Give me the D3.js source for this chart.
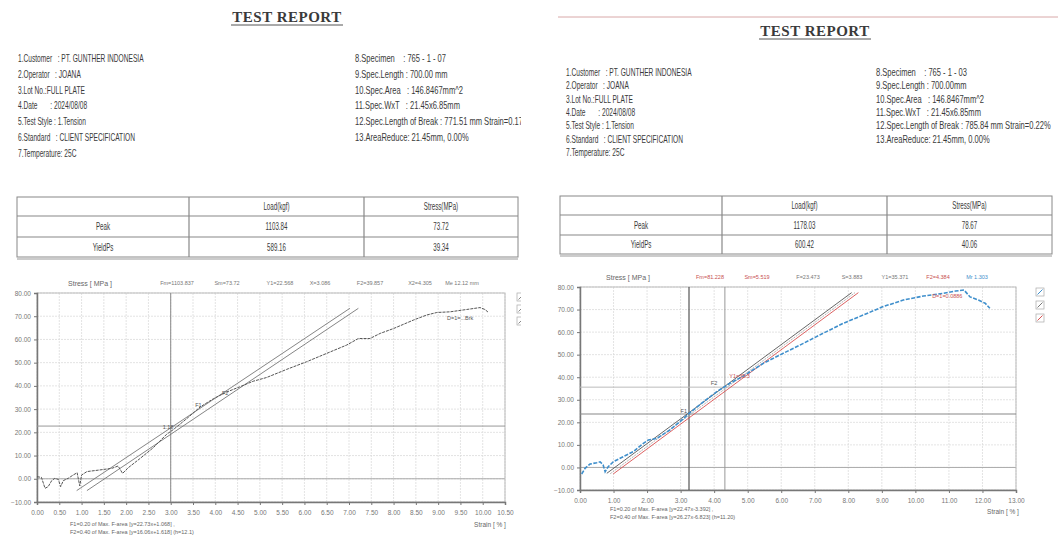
<!DOCTYPE html>
<html>
<head>
<meta charset="utf-8">
<script src="https://cdn.jsdelivr.net/npm/d3@7"></script>
<style>
  html, body { margin: 0; padding: 0; background: #ffffff; }
  svg { display: block; }
  .info { font-family: "Liberation Sans", "DejaVu Sans", sans-serif; fill: #3a3a3a; }
  .small { font-family: "Liberation Sans", "DejaVu Sans", sans-serif; fill: #666; }
  .title { font-family: "Liberation Serif", "DejaVu Serif", serif; font-weight: bold; fill: #3a3a3a; }
</style>
</head>
<body>
<svg id="page" width="1058" height="536"></svg>
<script>
// ---------- report A (specimen 765-1-07) ----------
const infoLeftA = [
  "1.Customer   : PT. GUNTHER INDONESIA",
  "2.Operator   : JOANA",
  "3.Lot No.:FULL PLATE",
  "4.Date       : 2024/08/08",
  "5.Test Style : 1.Tension",
  "6.Standard   : CLIENT SPECIFICATION",
  "7.Temperature: 25C"
];
const infoRightA = [
  "8.Specimen    : 765 - 1 - 07",
  "9.Spec.Length : 700.00 mm",
  "10.Spec.Area   : 146.8467mm^2",
  "11.Spec.WxT   : 21.45x6.85mm",
  "12.Spec.Length of Break : 771.51 mm Strain=0.17%",
  "13.AreaReduce: 21.45mm, 0.00%"
];
const tableHeadA = ["", "Load(kgf)", "Stress(MPa)"];
const tableRowsA = [["Peak", "1103.84", "73.72"], ["YieldPs", "589.16", "39.34"]];
const strainA = [0.00, 0.10, 0.18, 0.25, 0.33, 0.40, 0.48, 0.53, 0.59, 0.70, 0.81, 0.90, 0.96, 1.00, 1.12, 1.41, 1.68, 1.82, 1.92, 2.05, 2.31, 2.61, 2.91, 3.06, 3.36, 3.66, 3.96, 4.26, 4.55, 4.85, 5.15, 5.60, 6.05, 6.50, 6.95, 7.21, 7.47, 7.70, 8.00, 8.44, 8.74, 8.97, 9.27, 9.64, 9.94, 10.05, 10.13];
const stressA = [0.9, 0.6, -4.1, -3.4, -0.8, 0.2, -0.3, -3.4, -0.8, 0.2, 1.6, 2.6, -3.1, 1.6, 3.1, 3.8, 4.5, 5.5, 2.3, 4.8, 8.7, 13.4, 19.2, 21.2, 25.9, 30.9, 34.5, 37.4, 39.6, 42.0, 43.6, 47.1, 50.4, 54.0, 57.6, 60.4, 60.4, 62.6, 64.7, 68.3, 70.5, 71.6, 71.9, 72.9, 73.72, 72.9, 71.6];
// offset lines: [strain, stress] end points
const fitLinesA = [[[0.89, -5.1], [7.02, 73.4]], [[1.12, -5.1], [7.21, 73.4]]];
const xTicksA = d3.range(0, 10.51, 0.5);
const yTicks = d3.range(-10, 80.1, 10);
const headerA = ["Fm=1103.837", "Sm=73.72", "Y1=22.568", "X=3.086", "F2=39.857", "X2=4.305", "Me   12.12 mm"];
const footerA = ["F1=0.20 of Max. F-area [y=22.73x+1.068] ,", "F2=0.40 of Max. F-area [y=16.06x+1.618] (h=12.1)"];
const markA = { x: 3.0, y: 22.7 };

// ---------- report B (specimen 765-1-03) ----------
const infoLeftB = [
  "1.Customer   : PT. GUNTHER INDONESIA",
  "2.Operator   : JOANA",
  "3.Lot No.:FULL PLATE",
  "4.Date       : 2024/08/08",
  "5.Test Style : 1.Tension",
  "6.Standard   : CLIENT SPECIFICATION",
  "7.Temperature: 25C"
];
const infoRightB = [
  "8.Specimen    : 765 - 1 - 03",
  "9.Spec.Length : 700.00mm",
  "10.Spec.Area   : 146.8467mm^2",
  "11.Spec.WxT   : 21.45x6.85mm",
  "12.Spec.Length of Break : 785.84 mm Strain=0.22%",
  "13.AreaReduce: 21.45mm, 0.00%"
];
const tableHeadB = ["", "Load(kgf)", "Stress(MPa)"];
const tableRowsB = [["Peak", "1178.03", "78.67"], ["YieldPs", "600.42", "40.06"]];
const strainB = [0.05, 0.15, 0.30, 0.50, 0.60, 0.69, 0.75, 0.84, 0.99, 1.29, 1.59, 1.89, 2.04, 2.29, 2.68, 2.98, 3.28, 3.68, 4.08, 4.47, 4.87, 5.47, 6.06, 6.66, 7.25, 7.85, 8.45, 9.04, 9.64, 10.24, 10.83, 11.20, 11.45, 11.63, 11.88, 12.08, 12.22];
const stressB = [-2.9, -0.4, 1.5, 2.1, 2.5, 1.1, -1.9, 0.3, 2.5, 4.8, 7.0, 10.7, 12.2, 12.9, 16.6, 20.3, 24.3, 29.1, 33.6, 37.3, 40.5, 46.2, 50.6, 55.0, 59.5, 63.9, 67.6, 71.3, 74.2, 76.0, 77.2, 78.2, 78.67, 75.6, 74.2, 72.8, 70.6];
const fitLinesB = [[[0.80, -2.6], [8.10, 77.5]], [[0.90, -2.8], [8.20, 77.5]], [[0.99, -2.9], [8.30, 77.5]]];
const xTicksB = d3.range(0, 13.01, 1);
const headerB = ["Fm=81.228", "Sm=5.519", "F=23.473", "S=3.883", "Y1=35.371", "F2=4.384", "Mr   1.303"];
const footerB = ["F1=0.20 of Max. F-area [y=22.47x-3.392] ,", "F2=0.40 of Max. F-area [y=26.27x-6.823] (h=11.20)"];
const markB = { x: 3.25, y: 23.7, x2: 4.32, y2: 35.6 };

const svg = d3.select("#page");
svg.append("rect").attr("width", 1058).attr("height", 536).attr("fill", "#ffffff");

svg.append("defs").append("clipPath").attr("id", "clipA")
  .append("rect").attr("x", 0).attr("y", 0).attr("width", 521).attr("height", 536);

const gA = svg.append("g").attr("clip-path", "url(#clipA)");
const gB = svg.append("g");

// condensed text helper: narrow glyphs like the printed report
function ctext(g, x, y, str, size, anchor, sx) {
  return g.append("text").attr("class", "info")
    .attr("transform", `translate(${x},${y}) scale(${sx || 0.66},1)`)
    .attr("font-size", size).attr("text-anchor", anchor || "start")
    .attr("xml:space", "preserve").text(str);
}

// top rule of report B
gB.append("line").attr("x1", 558).attr("x2", 1058).attr("y1", 17).attr("y2", 17)
  .attr("stroke", "#d8a8a8").attr("stroke-width", 1);

function drawHeader(g, cx, ty, infoL, infoR, lx, rx, rows) {
  g.append("text").attr("class", "title").attr("x", cx).attr("y", ty)
    .attr("text-anchor", "middle").attr("font-size", 15).attr("letter-spacing", 0.5).text("TEST REPORT");
  const w = 112;
  g.append("line").attr("x1", cx - w / 2).attr("x2", cx + w / 2).attr("y1", ty + 3).attr("y2", ty + 3)
    .attr("stroke", "#555").attr("stroke-width", 1);
  infoL.forEach((d, i) => ctext(g, lx, rows[i], d, 10.5, "start", 0.63));
  infoR.forEach((d, i) => ctext(g, rx, rows[i], d, 10.5, "start", 0.72));
}

function drawTable(g, cols, rowsY, head, body) {
  const x0 = cols[0], x1 = cols[cols.length - 1];
  g.append("rect").attr("x", x0).attr("y", rowsY[0]).attr("width", x1 - x0).attr("height", rowsY[3] - rowsY[0])
    .attr("fill", "none").attr("stroke", "#888").attr("stroke-width", 1);
  rowsY.slice(1, 3).forEach(y => g.append("line").attr("x1", x0).attr("x2", x1).attr("y1", y).attr("y2", y)
    .attr("stroke", "#888").attr("stroke-width", 1.2));
  g.append("line").attr("x1", x0).attr("x2", x1).attr("y1", rowsY[3] + 2).attr("y2", rowsY[3] + 2)
    .attr("stroke", "#999").attr("stroke-width", 1);
  cols.slice(1, 3).forEach(x => g.append("line").attr("x1", x).attr("x2", x).attr("y1", rowsY[0]).attr("y2", rowsY[3])
    .attr("stroke", "#888").attr("stroke-width", 1.2));
  const all = [head].concat(body);
  all.forEach((row, r) => {
    row.forEach((cell, c) => {
      ctext(g, (cols[c] + cols[c + 1]) / 2, (rowsY[r] + rowsY[r + 1]) / 2 + 3.5, cell, 10, "middle", 0.62);
    });
  });
}

function drawChart(g, opt) {
  const x = d3.scaleLinear().domain(opt.xDomain).range(opt.xRange);
  const y = d3.scaleLinear().domain([-10, 80]).range(opt.yRange);
  const [L, R] = opt.xRange, [B, T] = opt.yRange;

  // grid
  g.append("g").selectAll("line").data(opt.xTicks).enter().append("line")
    .attr("x1", d => x(d)).attr("x2", d => x(d)).attr("y1", T).attr("y2", B)
    .attr("stroke", "#dcdcdc").attr("stroke-width", 0.8).attr("stroke-dasharray", "2,1");
  g.append("g").selectAll("line").data(yTicks).enter().append("line")
    .attr("x1", L).attr("x2", R).attr("y1", d => y(d)).attr("y2", d => y(d))
    .attr("stroke", "#dcdcdc").attr("stroke-width", 0.8).attr("stroke-dasharray", "2,1");
  // zero line
  g.append("line").attr("x1", L).attr("x2", R).attr("y1", y(0)).attr("y2", y(0))
    .attr("stroke", "#aaa").attr("stroke-width", 1);

  // frame
  g.append("rect").attr("x", L).attr("y", T).attr("width", R - L).attr("height", B - T)
    .attr("fill", "none").attr("stroke", "#bbb").attr("stroke-width", 1);

  // axes
  const ax = d3.axisBottom(x).tickValues(opt.xTicks).tickFormat(d3.format(".2f")).tickSize(3);
  const axg = g.append("g").attr("transform", `translate(0,${B})`).call(ax);
  const ay = d3.axisLeft(y).tickValues(yTicks).tickFormat(d3.format(".2f")).tickSize(3);
  const ayg = g.append("g").attr("transform", `translate(${L},0)`).call(ay);
  [axg, ayg].forEach(a => {
    a.select(".domain").attr("stroke", "#777").attr("stroke-width", 1.5);
    a.selectAll(".tick line").attr("stroke", "#777");
    a.selectAll(".tick text").attr("fill", "#777").attr("font-size", 6.5)
      .attr("font-family", "Liberation Sans, DejaVu Sans, sans-serif");
  });
  axg.selectAll(".tick text").attr("dy", "1.1em");

  // marker lines
  opt.marks.forEach(m => {
    if (m.type === "v") g.append("line").attr("x1", x(m.v)).attr("x2", x(m.v)).attr("y1", T).attr("y2", B)
      .attr("stroke", m.color).attr("stroke-width", m.w);
    else g.append("line").attr("x1", L).attr("x2", R).attr("y1", y(m.v)).attr("y2", y(m.v))
      .attr("stroke", m.color).attr("stroke-width", m.w);
  });

  // offset fit lines
  opt.fits.forEach((f, i) => {
    g.append("line").attr("x1", x(f[0][0])).attr("y1", y(f[0][1])).attr("x2", x(f[1][0])).attr("y2", y(f[1][1]))
      .attr("stroke", opt.fitColors[i]).attr("stroke-width", 0.9)
      .attr("stroke-dasharray", opt.fitDash[i]);
  });

  // curve
  const line = d3.line().x((d, i) => x(opt.strain[i])).y((d, i) => y(opt.stress[i])).curve(d3.curveLinear);
  g.append("path").datum(opt.stress).attr("d", line).attr("fill", "none")
    .attr("stroke", opt.curveColor).attr("stroke-width", opt.curveWidth)
    .attr("stroke-dasharray", opt.curveDash);

  // labels above plot
  g.append("text").attr("class", "small").attr("x", opt.yTitleX).attr("y", T - 7).attr("font-size", 7)
    .attr("text-anchor", "middle").text("Stress [ MPa ]");
  opt.header.forEach((h, i) => {
    g.append("text").attr("class", "small").attr("x", opt.headerX[i]).attr("y", T - 8).attr("font-size", 5.5)
      .style("fill", opt.headerColors[i]).attr("text-anchor", "middle").text(h);
  });
  g.append("text").attr("class", "small").attr("x", opt.xTitleX).attr("y", opt.xTitleY).attr("font-size", 6.5)
    .attr("text-anchor", "middle").text("Strain [ % ]");
  opt.footer.forEach((f, i) => {
    g.append("text").attr("class", "small").attr("x", opt.footX).attr("y", opt.footY + i * 8).attr("font-size", 5.5)
      .text(f);
  });

  // point labels on the curve
  opt.pointLabels.forEach(p => {
    g.append("text").attr("class", "small").attr("x", x(p.x)).attr("y", y(p.y)).attr("font-size", 5.5)
      .style("fill", p.color || "#555").text(p.t);
  });

  // legend icons
  opt.legend.forEach((c, i) => {
    const ly = opt.legendY + i * opt.legendStep;
    g.append("rect").attr("x", opt.legendX).attr("y", ly).attr("width", 8).attr("height", 8)
      .attr("fill", "#fff").attr("stroke", "#aaa").attr("stroke-width", 0.7);
    g.append("line").attr("x1", opt.legendX + 1.5).attr("y1", ly + 6.5).attr("x2", opt.legendX + 6.5).attr("y2", ly + 1.5)
      .attr("stroke", c).attr("stroke-width", 1);
  });
}

// ----- report A -----
drawHeader(gA, 287, 22, infoLeftA, infoRightA, 18, 355, [62, 78, 94, 109, 125, 141, 157]);
drawTable(gA, [17, 189, 364, 518], [197, 216, 237, 257], tableHeadA, tableRowsA);
drawChart(gA, {
  xDomain: [0, 10.5], xRange: [37, 505], yRange: [502, 293], xTicks: xTicksA,
  strain: strainA, stress: stressA, curveColor: "#555", curveWidth: 1, curveDash: "3,1",
  fits: fitLinesA, fitColors: ["#777", "#777"], fitDash: ["none", "none"],
  marks: [{ type: "v", v: markA.x, color: "#888", w: 1 }, { type: "h", v: markA.y, color: "#999", w: 1 }],
  header: headerA, headerX: [177, 227, 280, 320, 370, 420, 462],
  headerColors: ["#777", "#777", "#777", "#777", "#777", "#777", "#777"],
  yTitleX: 90, xTitleX: 490, xTitleY: 527, footer: footerA, footX: 70, footY: 526,
  pointLabels: [{ x: 2.82, y: 21.5, t: "1.18" }, { x: 3.55, y: 31, t: "F1" }, { x: 4.15, y: 36, t: "F2" },
    { x: 9.2, y: 68.2, t: "D=1=...Brk" }],
  legend: ["#888", "#888", "#888"], legendX: 517, legendY: 293, legendStep: 12
});

// ----- report B -----
drawHeader(gB, 815, 36, infoLeftB, infoRightB, 566, 876, [76, 89, 103, 116, 129, 143, 156]);
drawTable(gB, [560, 722, 887, 1052], [196, 215, 235, 254], tableHeadB, tableRowsB);
drawChart(gB, {
  xDomain: [0, 13], xRange: [580, 1016], yRange: [490, 287], xTicks: xTicksB,
  strain: strainB, stress: stressB, curveColor: "#3f8fcc", curveWidth: 1.6, curveDash: "4,1.5",
  fits: fitLinesB, fitColors: ["#555", "#aaa", "#d85050"], fitDash: ["none", "2,1", "none"],
  marks: [{ type: "v", v: markB.x, color: "#555", w: 1.2 }, { type: "v", v: markB.x2, color: "#999", w: 1 },
    { type: "h", v: markB.y, color: "#888", w: 1.2 }, { type: "h", v: markB.y2, color: "#bbb", w: 1 }],
  header: headerB, headerX: [710, 757, 808, 852, 895, 938, 977],
  headerColors: ["#c85050", "#c85050", "#777", "#777", "#777", "#c85050", "#3f8fcc"],
  yTitleX: 628, xTitleX: 1003, xTitleY: 514, footer: footerB, footX: 610, footY: 511,
  pointLabels: [{ x: 3.0, y: 24, t: "F1" }, { x: 3.9, y: 36.5, t: "F2" }, { x: 4.45, y: 39.5, t: "Y1=35.3", color: "#c85050" },
    { x: 10.5, y: 75, t: "D=1=0.0886", color: "#c85050" }],
  legend: ["#3f8fcc", "#777", "#d85050"], legendX: 1036, legendY: 288, legendStep: 13
});
</script>
</body>
</html>
